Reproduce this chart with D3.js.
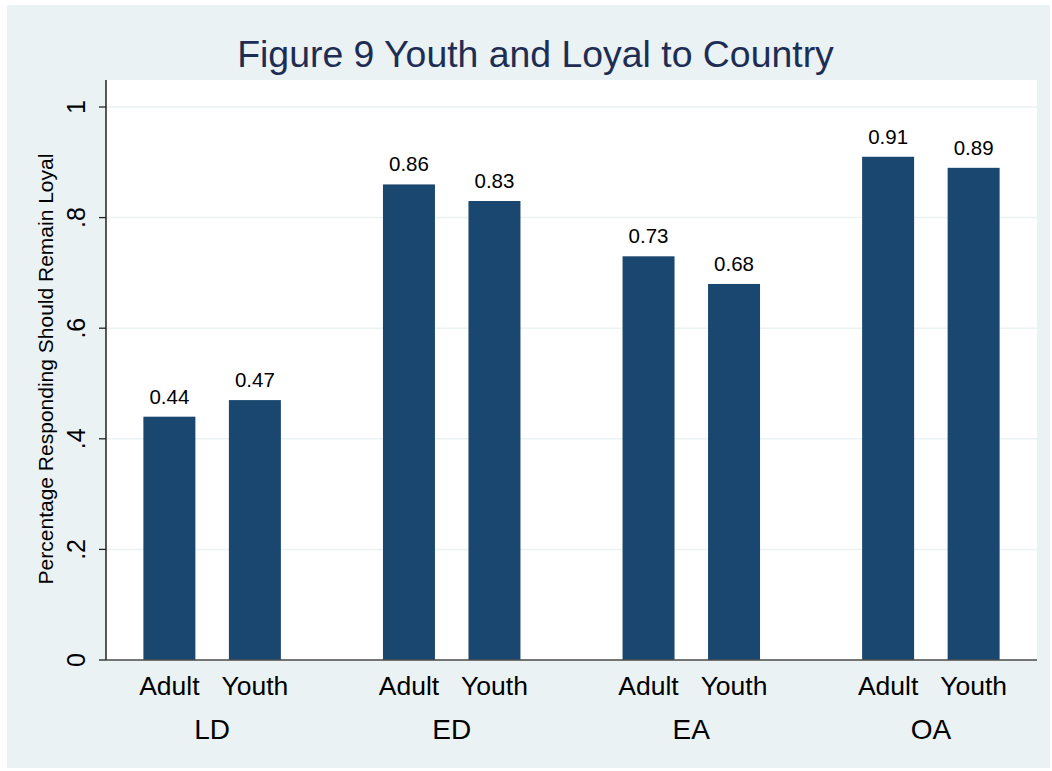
<!doctype html>
<html>
<head>
<script src="https://d3js.org/d3.v7.min.js"></script>
<style>
  body { margin: 0; background: #fff; }
  text { font-family: Arial, "Liberation Sans", Helvetica, sans-serif; }
</style>
</head>
<body>
<svg id="chart" width="1052" height="771"></svg>
<script>
// data
var groups = ["LD", "ED", "EA", "OA"];
var ages = ["Adult", "Youth"];
var adultVals = [0.44, 0.86, 0.73, 0.91];
var youthVals = [0.47, 0.83, 0.68, 0.89];
var yTicks = [0, 0.2, 0.4, 0.6, 0.8, 1];
var yTickLabels = ["0", ".2", ".4", ".6", ".8", "1"];

var rows = [];
groups.forEach(function(g, i) {
  rows.push({ group: g, age: "Adult", v: adultVals[i] });
  rows.push({ group: g, age: "Youth", v: youthVals[i] });
});

var svg = d3.select("#chart");

// outer background
svg.append("rect")
  .attr("x", 7).attr("y", 5)
  .attr("width", 1043).attr("height", 763)
  .attr("fill", "#eaf2f3");

var plot = { left: 106, right: 1037, top: 80, bottom: 660 };

var y = d3.scaleLinear().domain([0, 1]).range([660, 107]);
var x0 = d3.scalePoint().domain(groups)
  .range([plot.left, plot.right]).padding(0.443);
var x1 = d3.scaleBand().domain(ages)
  .range([-68.75, 68.75]).paddingInner(0.392).paddingOuter(0);

// plot area
svg.append("rect")
  .attr("x", plot.left).attr("y", plot.top)
  .attr("width", plot.right - plot.left)
  .attr("height", plot.bottom - plot.top)
  .attr("fill", "#fff");

// gridlines
svg.append("g").selectAll("line")
  .data(yTicks.filter(function(d) { return d > 0; }))
  .enter().append("line")
  .attr("x1", plot.left).attr("x2", plot.right)
  .attr("y1", function(d) { return y(d); })
  .attr("y2", function(d) { return y(d); })
  .attr("stroke", "#eaf2f3").attr("stroke-width", 1.5);

// title
svg.append("text")
  .attr("x", 535.5).attr("y", 67)
  .attr("text-anchor", "middle")
  .attr("font-size", 37.4)
  .attr("fill", "#1e2d53")
  .text("Figure 9 Youth and Loyal to Country");

// bars
svg.append("g").selectAll("rect")
  .data(rows).enter().append("rect")
  .attr("x", function(d) { return x0(d.group) + x1(d.age); })
  .attr("width", x1.bandwidth())
  .attr("y", function(d) { return y(d.v); })
  .attr("height", function(d) { return y(0) - y(d.v); })
  .attr("fill", "#1a476f");

// value labels
svg.append("g").selectAll("text")
  .data(rows).enter().append("text")
  .attr("x", function(d) { return x0(d.group) + x1(d.age) + x1.bandwidth() / 2; })
  .attr("y", function(d) { return y(d.v) - 13; })
  .attr("text-anchor", "middle")
  .attr("font-size", 20.5)
  .attr("fill", "#000")
  .text(function(d) { return d3.format(".2f")(d.v); });

// y axis
var yAxis = svg.append("g");
yAxis.append("line")
  .attr("x1", plot.left).attr("x2", plot.left)
  .attr("y1", plot.top).attr("y2", plot.bottom)
  .attr("stroke", "#000").attr("stroke-width", 1.3);
yAxis.selectAll(".tick").data(yTicks).enter().append("line")
  .attr("x1", 99).attr("x2", plot.left)
  .attr("y1", function(d) { return y(d); })
  .attr("y2", function(d) { return y(d); })
  .attr("stroke", "#222").attr("stroke-width", 1.3);
yAxis.selectAll(".lbl").data(yTicks).enter().append("text")
  .attr("transform", function(d) { return "translate(85," + y(d) + ") rotate(-90)"; })
  .attr("text-anchor", "middle")
  .attr("font-size", 25)
  .text(function(d, i) { return yTickLabels[i]; });

svg.append("text")
  .attr("transform", "translate(53,369) rotate(-90)")
  .attr("text-anchor", "middle")
  .attr("font-size", 21)
  .text("Percentage Responding Should Remain Loyal");

// x baseline
svg.append("line")
  .attr("x1", plot.left).attr("x2", plot.right)
  .attr("y1", plot.bottom).attr("y2", plot.bottom)
  .attr("stroke", "#4a4a4a").attr("stroke-width", 1.5);

// x labels
svg.append("g").selectAll("text")
  .data(rows).enter().append("text")
  .attr("x", function(d) { return x0(d.group) + x1(d.age) + x1.bandwidth() / 2; })
  .attr("y", 695)
  .attr("text-anchor", "middle")
  .attr("font-size", 26.5)
  .text(function(d) { return d.age; });

svg.append("g").selectAll("text")
  .data(groups).enter().append("text")
  .attr("x", function(d) { return x0(d); })
  .attr("y", 739)
  .attr("text-anchor", "middle")
  .attr("font-size", 28)
  .text(function(d) { return d; });
</script>
</body>
</html>
